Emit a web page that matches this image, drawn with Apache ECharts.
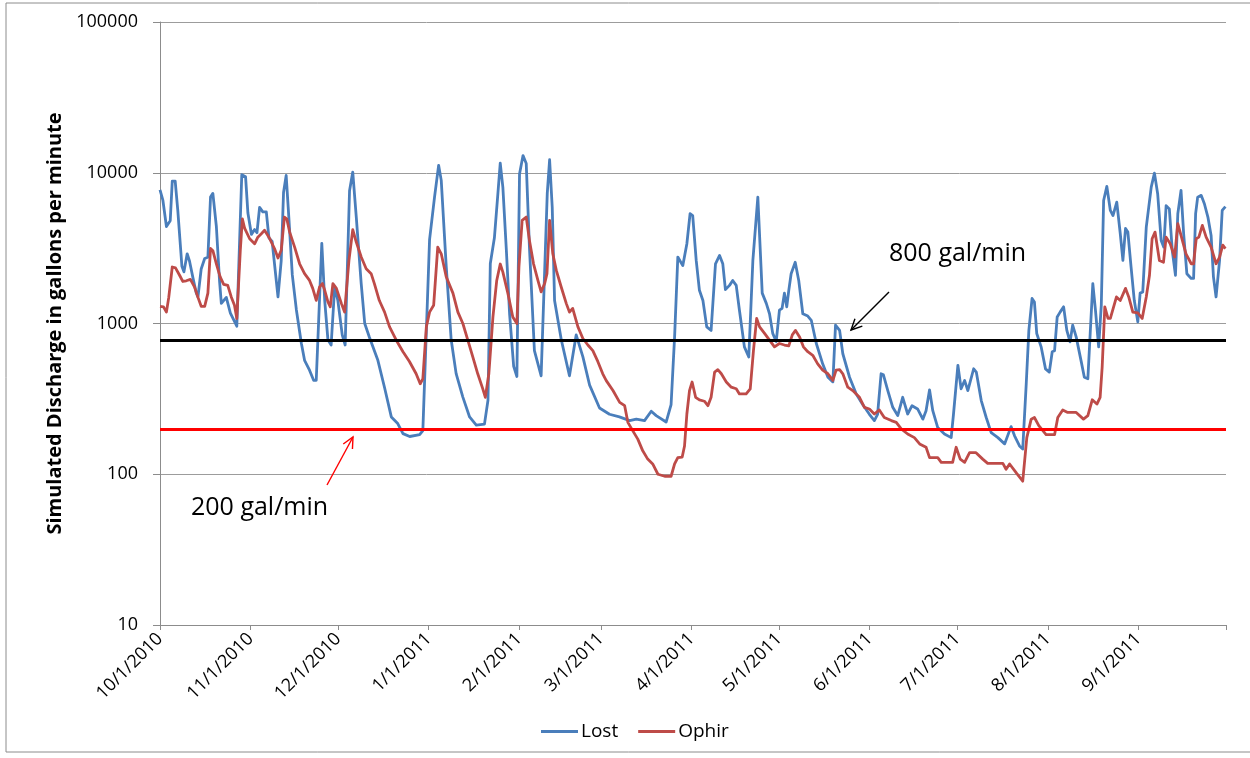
<!DOCTYPE html>
<html>
<head>
<meta charset="utf-8">
<script src="https://cdn.jsdelivr.net/npm/echarts@6/dist/echarts.min.js"></script>
<style>
  html, body { margin: 0; padding: 0; background: #fff; }
  #chart { width: 1250px; height: 758px; }
</style>
</head>
<body>
<div id="chart"></div>
<script>
// days after 10/1/2010
const lostDays = [0,1,2.2,3.5,4.2,5.2,6.1,7.5,8.2,9.3,10.1,11.3,12.4,13,14.1,15.3,16.4,17.3,18.1,19.3,20.4,21,22.7,24.1,26.3,28,29.3,30.1,31.3,32.4,33.2,34.1,35.2,36.4,37.3,38.4,40.4,41.5,42.3,43.2,44.1,45.3,46.7,48.4,49.5,51.2,52.6,53.5,55.4,56.4,57.5,58.6,59.8,60.9,62.4,63.4,64.9,66,67.2,68.9,70.1,71.7,74.6,76.9,79.2,81.4,83.2,85.5,88.9,90,92.3,94,95.4,96.3,98,99.7,101.4,103.7,106,108.3,111.1,112.3,113.1,114.5,115.7,116.5,117.4,118.6,119.7,121.1,122.2,123.1,124.3,125.4,126.5,128.2,130.5,132.6,133.4,134.3,135.1,137.4,140.2,142.5,144.8,147.1,150.5,153.9,157.3,160.8,163.1,165.9,168.2,169.9,173.3,175,176.2,177.3,179,180.4,181.5,182.4,183.6,184.7,185.9,187.2,188.7,190.2,191.6,192.7,193.6,195,196.1,197.3,198.4,200.1,201.6,203,204.7,206.2,207.6,208.7,209.8,211,212.1,213,213.8,214.6,215.3,216.1,217.5,218.7,220.1,221.8,223,224.7,226.9,228.7,230.4,231.3,232.7,233.8,236.1,238.4,240.6,242.9,244.6,245.7,246.9,247.7,249.2,250.9,252.6,254.3,256,257.5,259.4,261.2,262.3,263.5,264.6,266.3,268.6,270.9,271.7,273.2,274.3,275.5,276.6,278.6,279.5,281.2,282.9,284.6,286.9,289.2,291.4,292.6,294.3,295.4,296.6,297.5,298.6,299.4,300.2,301.7,303.2,304.5,305.5,306.3,307.2,308.2,309.4,310.5,311.6,312.5,313.7,315.4,316.5,317.7,318.5,319.4,320.3,321.4,322.3,323.1,324.2,325.4,326.3,327.6,328.8,329.7,330.6,331.4,332.5,333.6,334.8,335.6,336.5,337.7,339.4,340.5,341.6,342.8,343.7,344.5,345.6,346.6,347.7,348.5,349.6,350.5,351.6,353.1,353.9,354.6,355.3,356.5,357.6,358.8,359.9,360.7,361.6,362.8,363.7,364.8];
const lostFlow = [7700,6550,4400,4800,8800,8800,5600,2400,2200,2900,2600,2000,1600,1500,2300,2700,2750,6900,7300,4400,1900,1360,1490,1170,960,9700,9400,5400,3900,4200,4000,5900,5500,5500,3700,3500,1500,2600,7400,9600,5100,2100,1230,740,570,490,420,420,3400,1420,780,720,1740,1420,840,720,7600,10100,5100,1830,1000,810,570,375,240,217,186,178,183,195,3600,6900,11200,8900,2400,780,465,325,240,212,215,310,2500,3700,7300,11600,8000,3050,1160,520,445,9800,13000,11500,3200,660,450,7300,12200,5900,1420,780,450,840,600,390,275,250,240,227,232,227,262,245,222,290,815,2760,2420,3380,5350,5200,2620,1660,1420,950,900,2490,2830,2490,1680,1790,1930,1790,1225,700,600,2620,6900,1590,1360,1160,860,760,1225,1260,1590,1290,1660,2140,2550,1930,1160,1120,1050,740,540,440,410,975,900,630,440,340,290,250,227,250,464,457,359,278,245,324,251,285,271,232,264,363,264,204,185,175,251,528,369,419,359,501,476,308,238,189,175,159,207,180,154,147,398,900,1465,1390,858,700,500,476,650,660,1105,1190,1290,900,755,975,815,563,440,430,858,1840,1225,700,1320,6550,8120,5620,5200,6380,3940,2620,4270,4040,2370,1420,1025,1590,1620,4360,8030,9940,7260,3560,3210,6050,5760,3050,2090,5350,7630,3940,2140,1990,1990,5350,6890,7080,6230,5080,3840,2040,1500,2620,5620,5970];

const ophirDays = [0,1.2,2.2,3,4.2,5.3,6.7,7.8,9,10.4,11.8,13,14.1,15.3,16.4,17.3,18.1,19.3,20.6,21.8,23.2,24.4,25.5,26.3,27.5,28.2,29,30.7,32.4,33.5,34.7,35.8,36.4,37.3,39.2,40.4,41.5,42.6,43.4,44.4,46.1,47.8,49.5,51.2,52.3,53.5,54.6,55.6,56.4,57.5,58.3,59.2,60.4,62.1,63.2,64.7,66,67.2,68.9,70.6,72.3,73.4,75.1,76.9,78.6,80.9,83.2,85.4,87.7,89.1,90,91.2,92.3,93.7,95.1,96.3,98,100.3,102,103.7,105.4,107.1,108.8,110.5,111.4,112.6,114,115.3,116.5,117.4,119.1,120.8,122.2,122.9,124,125.4,126.5,127.9,129.4,130.5,131.7,132.5,133.4,134.5,135.7,137.4,139.1,140.2,141.3,143.1,144.8,146.5,148.2,149.9,151.6,152.8,155.1,157.4,159.1,160.2,161.9,163.6,165.3,167,168.7,170.5,172.8,175,176.2,177.3,178.8,179.6,180.4,181.3,182.2,183.4,184.7,186.4,187.6,188.7,189.9,191,192.2,193.9,195.6,197.3,198.4,200.7,202.1,203.2,204.3,205.3,207,208.7,210.4,212.1,213.8,215.3,216.5,217.6,219,220.3,221.8,223.5,225.2,226.9,228.7,230.4,231.5,232.7,233.8,235.5,237.2,239.5,241.2,242.9,244.6,246.3,248,250.4,252.1,253.8,256,258.3,260.1,262.3,263.5,266.3,267.5,271.4,272.6,274,275.5,277.2,279.4,281.7,283.4,288.6,289.7,290.9,293.2,295.4,296.8,298.3,299.4,300.9,303.4,306.3,307.4,309.1,310.8,313.7,316.2,317.7,319.2,320.8,321.9,322.6,323.5,324.6,325.4,327.5,328.8,330.6,331.7,333.1,334.8,336.3,337.7,338.8,339.7,340.7,342.2,343.6,344.5,345.9,347.4,348.5,349.6,351.3,353.1,353.9,354.8,355.7,356.9,358.2,359.9,361.6,362.8,363.9,364.8];
const ophirFlow = [1300,1290,1190,1490,2370,2340,2090,1900,1920,1960,1750,1490,1300,1300,1590,3150,3040,2490,2040,1820,1790,1500,1320,1080,3060,4950,4270,3650,3380,3740,3940,4150,4270,3740,3140,2720,3060,5080,4950,4040,3210,2490,2140,1930,1710,1425,1740,1840,1660,1390,1290,1840,1710,1360,1190,2620,4190,3470,2760,2310,2140,1840,1420,1190,950,775,650,560,464,398,430,950,1190,1320,3210,2900,2040,1590,1190,1000,775,600,464,370,324,464,1105,1930,2480,2190,1590,1105,1000,2370,4830,5080,3560,2490,1930,1620,1840,2140,4830,2900,2250,1740,1360,1190,1260,950,795,720,660,560,464,418,359,300,285,221,194,171,143,126,117,100,97,97,117,129,130,154,251,359,409,324,311,305,285,324,476,494,464,409,378,369,341,341,369,660,1080,950,860,775,700,737,720,710,840,900,815,700,650,615,540,490,464,419,490,494,464,378,359,324,278,271,251,267,238,227,221,200,185,175,159,151,129,129,120,120,151,126,120,139,139,126,118,118,108,117,102,90,175,232,238,210,183,183,238,267,257,257,232,245,312,292,324,513,1290,1080,1080,1500,1420,1710,1500,1190,1175,1080,1500,2090,3650,4040,2620,2550,3740,3380,2760,4590,3840,2900,2490,2490,3650,3740,4480,3740,3210,2490,2760,3310,3140];

const seriesNames = ['Lost', 'Ophir'];
const yTicks = [10, 100, 1000, 10000, 100000];
const refLevels = [780, 200];          // 800 gal/min and 200 gal/min lines
const refColors = ['#000000', '#ff0000'];

const DAY = 86400000;
const T0 = Date.UTC(2010, 9, 1);
const T1 = Date.UTC(2011, 9, 1);
const toPairs = (days, vals) => days.map((d, i) => [T0 + d * DAY, vals[i]]);

const font = '"Open Sans", "Noto Sans", sans-serif';

// small open arrowhead for the annotation arrows
function arrow(x1, y1, x2, y2, color) {
  const a = Math.atan2(y2 - y1, x2 - x1), L = 12, w = 0.45;
  return [
    { type: 'line', shape: { x1, y1, x2, y2 }, style: { stroke: color, lineWidth: 1.4 }, z: 10 },
    { type: 'polyline', shape: { points: [
        [x2 - L * Math.cos(a - w), y2 - L * Math.sin(a - w)], [x2, y2],
        [x2 - L * Math.cos(a + w), y2 - L * Math.sin(a + w)]] },
      style: { stroke: color, lineWidth: 1.4, fill: null }, z: 10 }
  ];
}

const chart = echarts.init(document.getElementById('chart'), null, { renderer: 'canvas' });
chart.setOption({
  animation: false,
  useUTC: true,
  backgroundColor: '#fff',
  grid: { left: 160, right: 24, top: 22, bottom: 133, containLabel: false, outerBoundsMode: 'none' },
  legend: {
    data: seriesNames,
    left: 536, top: 717,
    icon: 'rect', itemWidth: 37, itemHeight: 3, itemGap: 20,
    textStyle: { fontFamily: font, fontSize: 19, color: '#000', padding: [0, 0, 0, -2] }
  },
  xAxis: {
    type: 'time',
    min: T0, max: T1,
    splitNumber: 12,
    minInterval: 28 * DAY, maxInterval: 31 * DAY,
    axisLine: { show: true, lineStyle: { color: '#8c8c8c', width: 1 } },
    axisTick: { show: true, length: 5, lineStyle: { color: '#8c8c8c' } },
    splitLine: { show: false },
    axisLabel: {
      rotate: 45, margin: 11,
      fontFamily: font, fontSize: 18, color: '#000',
      formatter: v => {
        if (v >= T1) return '';
        const d = new Date(v);
        return (d.getUTCMonth() + 1) + '/' + d.getUTCDate() + '/' + d.getUTCFullYear();
      }
    }
  },
  yAxis: {
    type: 'log', logBase: 10, min: yTicks[0], max: yTicks[yTicks.length - 1],
    name: 'Simulated Discharge in gallons per minute',
    nameLocation: 'middle', nameRotate: 90, nameGap: 92,
    nameTextStyle: { fontFamily: font, fontSize: 20, fontWeight: 'bold', color: '#000' },
    axisLine: { show: true, lineStyle: { color: '#8c8c8c', width: 1 } },
    axisTick: { show: true, length: 7, lineStyle: { color: '#8c8c8c' } },
    splitLine: { show: true, lineStyle: { color: '#9c9c9c', width: 1 } },
    minorTick: { show: false },
    axisLabel: { margin: 22, fontFamily: font, fontSize: 18, color: '#000', formatter: v => String(Math.round(v)) }
  },
  series: [
    { name: 'Lost', type: 'line', data: toPairs(lostDays, lostFlow), showSymbol: false, symbol: 'none',
      color: '#4A7EBB', lineStyle: { width: 2.8, color: '#4A7EBB', join: 'round' }, z: 2 },
    { name: 'Ophir', type: 'line', data: toPairs(ophirDays, ophirFlow), showSymbol: false, symbol: 'none',
      color: '#BE4B48', lineStyle: { width: 2.8, color: '#BE4B48', join: 'round' }, z: 3,
      markLine: {
        silent: true, symbol: 'none', label: { show: false }, z: 5,
        data: refLevels.map((v, i) => ({ yAxis: v, lineStyle: { color: refColors[i], width: 3, type: 'solid' } }))
      } }
  ],
  graphic: [
    { type: 'rect', shape: { x: 6, y: 3, width: 1300, height: 749 }, style: { fill: null, stroke: '#8c8c8c', lineWidth: 1 }, silent: true },
    { type: 'text', left: 889, top: 241, style: { text: '800 gal/min', font: '25px ' + font, fill: '#000' } },
    { type: 'text', left: 191, top: 495, style: { text: '200 gal/min', font: '25px ' + font, fill: '#000' } },
    ...arrow(889, 292, 851, 330, '#000'),
    ...arrow(327, 485, 353, 437, '#ff0000')
  ]
});
</script>
</body>
</html>
